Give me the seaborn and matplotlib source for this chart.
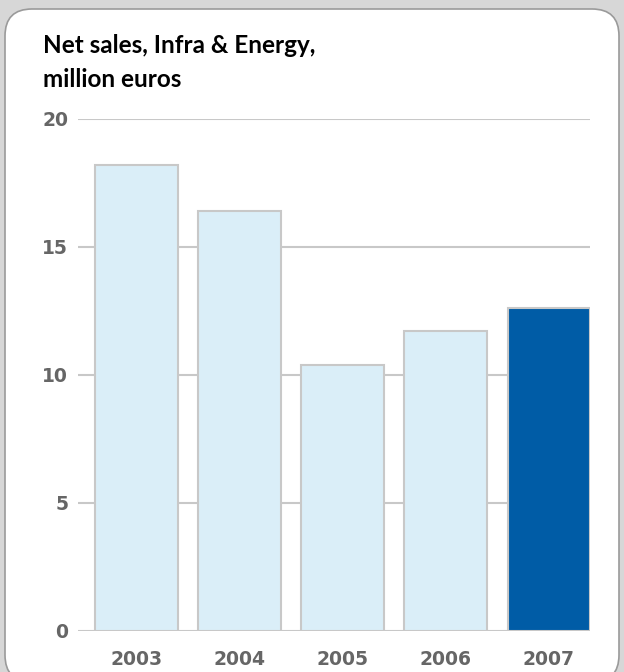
import numpy as np
import pandas as pd
import matplotlib
matplotlib.use("Agg")
import matplotlib.pyplot as plt
import seaborn as sns
from matplotlib.patches import FancyBboxPatch

# Data
years = ["2003", "2004", "2005", "2006", "2007"]
net_sales = [18.2, 16.4, 10.4, 11.7, 12.6]
bar_colors = ["#daeef8", "#daeef8", "#daeef8", "#daeef8", "#005ca6"]
y_ticks = [0, 5, 10, 15, 20]

df = pd.DataFrame({"Year": years, "Net sales": net_sales})

sns.set_style("white")
plt.rcParams["font.family"] = ["DejaVu Sans"]

W, H = 624, 672
fig = plt.figure(figsize=(W / 100, H / 100), dpi=100)
fig.patch.set_facecolor("#d7d7d7")

# white rounded panel behind the chart
panel = FancyBboxPatch((5 / 100, -10 / 100), 614 / 100, (H - 9 + 10) / 100,
                       boxstyle="round,pad=0,rounding_size=0.27",
                       transform=fig.dpi_scale_trans, facecolor="white",
                       edgecolor="#9a9a9a", linewidth=1.2, zorder=-5)
fig.patches.append(panel)

ax = fig.add_axes([78 / W, (H - 631) / H, 512 / W, 512 / H])
ax.set_zorder(2)
ax.set_facecolor("none")

sns.barplot(data=df, x="Year", y="Net sales", hue="Year", palette=bar_colors,
            legend=False, width=0.8, edgecolor="#c8c8c8", linewidth=1.5,
            saturation=1, ax=ax, zorder=3)

ax.set_xlim(-0.565, 4.4)
ax.set_ylim(0, 20)
ax.set_yticks(y_ticks)
ax.yaxis.grid(True, color="#c8c8c8", linewidth=1.5, zorder=0)
ax.set_axisbelow(True)
sns.despine(ax=ax, left=True, bottom=True)
ax.set_xlabel("")
ax.set_ylabel("")
ax.tick_params(axis="both", length=0, labelsize=13.5, labelcolor="#666666")
ax.tick_params(axis="y", pad=7)
ax.tick_params(axis="x", pad=14)
for lab in ax.get_xticklabels() + ax.get_yticklabels():
    lab.set_fontweight("bold")

# Title, two lines
fig.text(43 / W, (H - 53) / H, "Net sales, Infra & Energy,", fontsize=17.5,
         fontweight="bold", family=["Lato", "DejaVu Sans"], color="black",
         va="baseline", zorder=3)
fig.text(43 / W, (H - 87) / H, "million euros", fontsize=17.5,
         fontweight="bold", family=["Lato", "DejaVu Sans"], color="black",
         va="baseline", zorder=3)

fig.savefig("out.png", dpi=100)
